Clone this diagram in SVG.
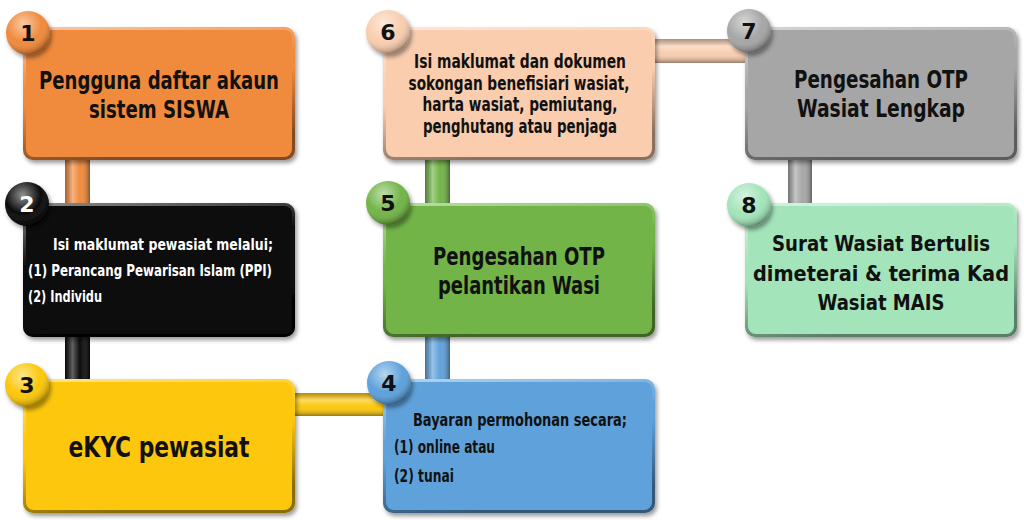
<svg xmlns="http://www.w3.org/2000/svg" width="1024" height="520" viewBox="0 0 1024 520">
<style>
text{font-family:"DejaVu Sans Condensed","DejaVu Sans",sans-serif;font-weight:bold;fill:#111;}
.num{font-family:"DejaVu Sans","Liberation Sans",sans-serif;font-weight:900;font-size:22px;text-anchor:middle;}
.c{text-anchor:middle;}
.wt{fill:#fff;}
.bev{fill:url(#bevel);}
.box{filter:url(#sh);}
.bar{fill:url(#vbar);}
.hbar{fill:url(#hbar);}
.ov{fill:url(#ball);}
</style>
<defs>
<filter id="sh" x="-10%" y="-10%" width="125%" height="130%">
<feDropShadow dx="2" dy="3" stdDeviation="2" flood-color="#000" flood-opacity="0.4"/>
</filter>
<linearGradient id="bevel" x1="0" y1="0" x2="0.3" y2="1">
<stop offset="0" stop-color="#fff" stop-opacity="0.55"/>
<stop offset="0.45" stop-color="#fff" stop-opacity="0"/>
<stop offset="0.55" stop-color="#000" stop-opacity="0"/>
<stop offset="1" stop-color="#000" stop-opacity="0.45"/>
</linearGradient>
<linearGradient id="vbar" x1="0" y1="0" x2="1" y2="0">
<stop offset="0" stop-color="#000" stop-opacity="0.3"/>
<stop offset="0.3" stop-color="#fff" stop-opacity="0.35"/>
<stop offset="0.6" stop-color="#fff" stop-opacity="0"/>
<stop offset="1" stop-color="#000" stop-opacity="0.4"/>
</linearGradient>
<linearGradient id="hbar" x1="0" y1="0" x2="0" y2="1">
<stop offset="0" stop-color="#000" stop-opacity="0.3"/>
<stop offset="0.3" stop-color="#fff" stop-opacity="0.35"/>
<stop offset="0.6" stop-color="#fff" stop-opacity="0"/>
<stop offset="1" stop-color="#000" stop-opacity="0.4"/>
</linearGradient>
<radialGradient id="ball" cx="0.4" cy="0.3" r="0.75">
<stop offset="0" stop-color="#fff" stop-opacity="0.55"/>
<stop offset="0.55" stop-color="#fff" stop-opacity="0"/>
<stop offset="0.85" stop-color="#000" stop-opacity="0.2"/>
<stop offset="1" stop-color="#000" stop-opacity="0.55"/>
</radialGradient>
</defs>
<rect width="1024" height="520" fill="#fff"/>

<g id="connectors">
<rect x="65" y="150" width="25" height="60" fill="#F08A3C"/><rect class="bar" x="65" y="150" width="25" height="60"/>
<rect x="65" y="330" width="25" height="56" fill="#0a0a0a"/><rect class="bar" x="65" y="330" width="25" height="56"/>
<rect x="290" y="393" width="100" height="23" fill="#FCC70A"/><rect class="hbar" x="290" y="393" width="100" height="23"/>
<rect x="425" y="330" width="25" height="56" fill="#5EA1DB"/><rect class="bar" x="425" y="330" width="25" height="56"/>
<rect x="425" y="150" width="25" height="60" fill="#72B447"/><rect class="bar" x="425" y="150" width="25" height="60"/>
<rect x="650" y="39" width="100" height="24" fill="#F9CDAE"/><rect class="hbar" x="650" y="39" width="100" height="24"/>
<rect x="788" y="150" width="24" height="60" fill="#A6A6A6"/><rect class="bar" x="788" y="150" width="24" height="60"/>
</g>

<g id="node1">
<g class="box"><rect x="23" y="27" width="272" height="133" rx="10" fill="#F08A3C"/><rect class="bev" x="23" y="27" width="272" height="133" rx="10"/><rect x="26" y="30" width="266" height="127" rx="8" fill="#F08A3C"/></g>
<text class="c" x="159" y="89" font-size="24.5" textLength="240" lengthAdjust="spacingAndGlyphs">Pengguna daftar akaun</text>
<text class="c" x="159" y="118" font-size="24.5" textLength="140" lengthAdjust="spacingAndGlyphs">sistem SISWA</text>
<g class="box"><circle cx="28" cy="33" r="22" fill="#F08A3C"/><circle class="ov" cx="28" cy="33" r="22"/></g>
<text class="num" x="28" y="41">1</text>
</g>

<g id="node2">
<g class="box"><rect x="23" y="203" width="272" height="134" rx="10" fill="#0a0a0a"/><rect class="bev" x="23" y="203" width="272" height="134" rx="10"/><rect x="26" y="206" width="266" height="128" rx="8" fill="#0a0a0a"/></g>
<text class="wt" x="53" y="250" font-size="16" textLength="220" lengthAdjust="spacingAndGlyphs">Isi maklumat pewasiat melalui;</text>
<text class="wt" x="28" y="276" font-size="16" textLength="244" lengthAdjust="spacingAndGlyphs">(1) Perancang Pewarisan Islam (PPI)</text>
<text class="wt" x="28" y="302" font-size="16" textLength="74" lengthAdjust="spacingAndGlyphs">(2) Individu</text>
<g class="box"><circle cx="27" cy="204" r="22" fill="#0a0a0a"/><circle class="ov" cx="27" cy="204" r="22"/></g>
<text class="num wt" x="27" y="212">2</text>
</g>

<g id="node3">
<g class="box"><rect x="23" y="379" width="272" height="134" rx="10" fill="#FCC70A"/><rect class="bev" x="23" y="379" width="272" height="134" rx="10"/><rect x="26" y="382" width="266" height="128" rx="8" fill="#FCC70A"/></g>
<text class="c" x="159" y="457" font-size="29" textLength="181" lengthAdjust="spacingAndGlyphs">eKYC pewasiat</text>
<g class="box"><circle cx="27" cy="385" r="22" fill="#FCC70A"/><circle class="ov" cx="27" cy="385" r="22"/></g>
<text class="num" x="27" y="393">3</text>
</g>

<g id="node4">
<g class="box"><rect x="383" y="379" width="272" height="134" rx="10" fill="#5EA1DB"/><rect class="bev" x="383" y="379" width="272" height="134" rx="10"/><rect x="386" y="382" width="266" height="128" rx="8" fill="#5EA1DB"/></g>
<text x="413" y="426" font-size="18.5" textLength="214" lengthAdjust="spacingAndGlyphs">Bayaran permohonan secara;</text>
<text x="394" y="453" font-size="18.5" textLength="101" lengthAdjust="spacingAndGlyphs">(1) online atau</text>
<text x="394" y="482" font-size="18.5" textLength="60" lengthAdjust="spacingAndGlyphs">(2) tunai</text>
<g class="box"><circle cx="389" cy="383" r="22" fill="#5EA1DB"/><circle class="ov" cx="389" cy="383" r="22"/></g>
<text class="num" x="389" y="391">4</text>
</g>

<g id="node5">
<g class="box"><rect x="383" y="203" width="272" height="134" rx="10" fill="#72B447"/><rect class="bev" x="383" y="203" width="272" height="134" rx="10"/><rect x="386" y="206" width="266" height="128" rx="8" fill="#72B447"/></g>
<text class="c" x="519" y="265" font-size="25" textLength="172" lengthAdjust="spacingAndGlyphs">Pengesahan OTP</text>
<text class="c" x="519" y="294" font-size="25" textLength="162" lengthAdjust="spacingAndGlyphs">pelantikan Wasi</text>
<g class="box"><circle cx="388" cy="203" r="22" fill="#72B447"/><circle class="ov" cx="388" cy="203" r="22"/></g>
<text class="num" x="388" y="211">5</text>
</g>

<g id="node6">
<g class="box"><rect x="383" y="27" width="272" height="133" rx="10" fill="#F9CDAE"/><rect class="bev" x="383" y="27" width="272" height="133" rx="10"/><rect x="386" y="30" width="266" height="127" rx="8" fill="#F9CDAE"/></g>
<text class="c" x="520" y="68" font-size="19" textLength="212" lengthAdjust="spacingAndGlyphs">Isi maklumat dan dokumen</text>
<text class="c" x="519" y="90" font-size="19" textLength="221" lengthAdjust="spacingAndGlyphs">sokongan benefisiari wasiat,</text>
<text class="c" x="520" y="111" font-size="19" textLength="195" lengthAdjust="spacingAndGlyphs">harta wasiat, pemiutang,</text>
<text class="c" x="520" y="133" font-size="19" textLength="194" lengthAdjust="spacingAndGlyphs">penghutang atau penjaga</text>
<g class="box"><circle cx="388" cy="32" r="22" fill="#F9CDAE"/><circle class="ov" cx="388" cy="32" r="22"/></g>
<text class="num" x="388" y="40">6</text>
</g>

<g id="node7">
<g class="box"><rect x="745" y="27" width="272" height="133" rx="10" fill="#A6A6A6"/><rect class="bev" x="745" y="27" width="272" height="133" rx="10"/><rect x="748" y="30" width="266" height="127" rx="8" fill="#A6A6A6"/></g>
<text class="c" x="881" y="88" font-size="24.5" textLength="174" lengthAdjust="spacingAndGlyphs">Pengesahan OTP</text>
<text class="c" x="881" y="117" font-size="24.5" textLength="168" lengthAdjust="spacingAndGlyphs">Wasiat Lengkap</text>
<g class="box"><circle cx="749" cy="31" r="22" fill="#A6A6A6"/><circle class="ov" cx="749" cy="31" r="22"/></g>
<text class="num" x="749" y="39">7</text>
</g>

<g id="node8">
<g class="box"><rect x="745" y="203" width="272" height="134" rx="10" fill="#A3E4BA"/><rect class="bev" x="745" y="203" width="272" height="134" rx="10"/><rect x="748" y="206" width="266" height="128" rx="8" fill="#A3E4BA"/></g>
<text class="c" x="881" y="251" font-size="21" textLength="218" lengthAdjust="spacingAndGlyphs">Surat Wasiat Bertulis</text>
<text class="c" x="881" y="281" font-size="21" textLength="256" lengthAdjust="spacingAndGlyphs">dimeterai &amp; terima Kad</text>
<text class="c" x="881" y="310" font-size="21" textLength="127" lengthAdjust="spacingAndGlyphs">Wasiat MAIS</text>
<g class="box"><circle cx="749" cy="205" r="22" fill="#A3E4BA"/><circle class="ov" cx="749" cy="205" r="22"/></g>
<text class="num" x="749" y="213">8</text>
</g>
</svg>
